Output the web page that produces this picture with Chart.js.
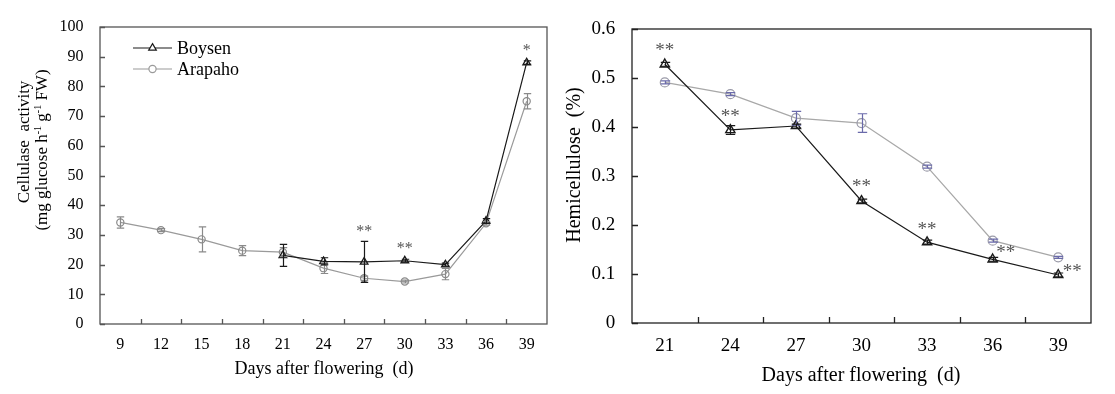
<!DOCTYPE html>
<html><head><meta charset="utf-8">
<script src="https://cdn.jsdelivr.net/npm/chart.js@4.4.1/dist/chart.umd.min.js"></script>
<style>
html,body{margin:0;padding:0;background:#fff;}
#wrap{position:relative;width:1115px;height:394px;overflow:hidden;background:#fff;}
#c1{position:absolute;left:0;top:0;}
#c2{position:absolute;left:555px;top:0;}
</style></head><body>
<div id="wrap"><canvas id="c1" width="555" height="394"></canvas><canvas id="c2" width="560" height="394"></canvas></div>
<script>
// ---- Left chart: cellulase activity ----
const cellDays = ['9','12','15','18','21','24','27','30','33','36','39'];
const cellBoysen = [null,null,null,null,23.1,21.1,20.9,21.3,20.0,34.7,88.0];
const cellBoysenErr = [0,0,0,0,3.7,1.2,6.9,0.5,0.5,0.8,0.6];
const cellArapaho = [34.2,31.6,28.5,24.7,24.2,18.8,15.4,14.3,16.8,33.9,75.0];
const cellArapahoErr = [1.9,0.5,4.2,1.7,1.5,1.8,0.7,0.5,1.9,0.6,2.6];
const cellStars = ['','','','','','','**','**','','','*'];
const cellYTicks = [0,10,20,30,40,50,60,70,80,90,100];

// ---- Right chart: hemicellulose ----
const hemiDays = ['21','24','27','30','33','36','39'];
const hemiBoysen = [0.528,0.394,0.402,0.249,0.165,0.130,0.098];
const hemiBoysenErr = [0.004,0.009,0.004,0.004,0.004,0.004,0.004];
const hemiArapaho = [0.491,0.467,0.418,0.408,0.319,0.168,0.134];
const hemiArapahoErr = [0.003,0.003,0.014,0.019,0.003,0.003,0.002];
const hemiStars = ['**','**','','**','**','**','**'];
const hemiYTicks = [0,0.1,0.2,0.3,0.4,0.5,0.6];

const FONT = "'Liberation Serif','Times New Roman',serif";
const BLACK = '#1a1a1a';
const GRAY = '#9a9a9a';

function decorPlugin(o){
  return {
    id:'decor',
    beforeDatasetsDraw(chart){
      const ctx = chart.ctx, a = chart.chartArea, xs = chart.scales.x, ys = chart.scales.y;
      ctx.save();
      ctx.strokeStyle = o.frameColor; ctx.lineWidth = 1.3;
      ctx.strokeRect(a.left, a.top, a.right - a.left, a.bottom - a.top);
      ctx.beginPath();
      // x ticks (inward) between categories
      const n = chart.data.labels.length;
      for (let i = 1; i < n; i++){
        const x = Math.round((xs.getPixelForValue(i-1) + xs.getPixelForValue(i))/2) + 0.5;
        ctx.moveTo(x, a.bottom); ctx.lineTo(x, a.bottom - o.tickLen);
      }
      // y ticks (inward)
      o.yTicks.forEach(v => {
        const y = Math.round(ys.getPixelForValue(v)) + 0.5;
        ctx.moveTo(a.left, y); ctx.lineTo(a.left + o.tickLen, y);
      });
      ctx.stroke();
      ctx.restore();
    },
    afterDatasetsDraw(chart){
      const ctx = chart.ctx, xs = chart.scales.x, ys = chart.scales.y;
      ctx.save();
      o.errors.forEach(er => {
        ctx.strokeStyle = er.color; ctx.lineWidth = 1.2;
        ctx.beginPath();
        er.values.forEach((v, i) => {
          const e = er.err[i];
          if (v === null || !e) return;
          const x = Math.round(xs.getPixelForValue(i)) + 0.5;
          const yt = ys.getPixelForValue(v + e), yb = ys.getPixelForValue(v - e);
          ctx.moveTo(x, yt); ctx.lineTo(x, yb);
          ctx.moveTo(x - o.cap, yt); ctx.lineTo(x + o.cap, yt);
          ctx.moveTo(x - o.cap, yb); ctx.lineTo(x + o.cap, yb);
        });
        ctx.stroke();
      });
      // significance stars
      ctx.fillStyle = '#555'; ctx.font = o.starFont;
      ctx.textAlign = 'center'; ctx.textBaseline = 'middle';
      o.stars.forEach((s, i) => {
        if (!s) return;
        let top = -Infinity;
        o.errors.forEach(er => { if (er.values[i] !== null && er.anchor) top = Math.max(top, er.values[i] + er.err[i]); });
        const off = o.starOffsets[i] || [0, -10];
        ctx.fillText(s, xs.getPixelForValue(i) + off[0], ys.getPixelForValue(top) + off[1]);
      });
      ctx.restore();
    },
    afterDraw(chart){
      const ctx = chart.ctx;
      ctx.save();
      // legend
      o.legend.items.forEach((it, k) => {
        const y = o.legend.y + k * o.legend.gap;
        ctx.strokeStyle = it.color; ctx.lineWidth = 1.2;
        ctx.beginPath(); ctx.moveTo(o.legend.x1, y); ctx.lineTo(o.legend.x2, y); ctx.stroke();
        ctx.fillStyle = '#fff';
        Chart.helpers.drawPoint(ctx, {pointStyle: it.style, radius: it.r, rotation: 0, borderWidth: 1.2}, (o.legend.x1 + o.legend.x2)/2, y);
        ctx.fillStyle = '#000'; ctx.font = o.legend.font;
        ctx.textAlign = 'left'; ctx.textBaseline = 'middle';
        ctx.fillText(it.text, o.legend.tx, y + 1);
      });
      // x title
      ctx.fillStyle = '#000'; ctx.font = o.xTitle.font;
      ctx.textAlign = 'center'; ctx.textBaseline = 'middle';
      ctx.fillText(o.xTitle.text, o.xTitle.x, o.xTitle.y);
      // y title lines (rotated), with superscript segments
      o.yTitle.lines.forEach(line => {
        ctx.save();
        ctx.translate(line.x, line.y);
        ctx.rotate(-Math.PI/2);
        ctx.textBaseline = 'middle'; ctx.textAlign = 'left';
        let w = 0;
        line.segs.forEach(sg => { ctx.font = sg.sup ? o.yTitle.supFont : o.yTitle.font; w += ctx.measureText(sg.t).width; });
        let cx = -w/2;
        line.segs.forEach(sg => {
          ctx.font = sg.sup ? o.yTitle.supFont : o.yTitle.font;
          ctx.fillText(sg.t, cx, sg.sup ? -5 : 0);
          cx += ctx.measureText(sg.t).width;
        });
        ctx.restore();
      });
      ctx.restore();
    }
  };
}

function baseOptions(p){
  return {
    responsive:false, animation:false, devicePixelRatio:1,
    layout:{padding:p.pad},
    plugins:{legend:{display:false}, tooltip:{enabled:false}},
    scales:{
      x:{type:'category', offset:true,
         grid:{display:false, drawTicks:false}, border:{display:false},
         ticks:{font:{family:FONT, size:p.tickSize}, color:'#000', padding:p.xPad, maxRotation:0, autoSkip:false},
         afterFit(s){ s.height = p.xH; }},
      y:{min:p.yMin, max:p.yMax,
         grid:{display:false, drawTicks:false}, border:{display:false},
         ticks:{stepSize:p.step, font:{family:FONT, size:p.tickSize}, color:'#000', padding:p.yPad, callback:p.fmt},
         afterFit(s){ s.width = p.yW; }}
    }
  };
}

// Left chart
new Chart(document.getElementById('c1'), {
  type:'line',
  data:{labels:cellDays, datasets:[
    {label:'Boysen', data:cellBoysen, borderColor:BLACK, borderWidth:1.2, pointStyle:'triangle', pointRadius:4.4,
     pointBackgroundColor:'rgba(255,255,255,0)', pointBorderColor:BLACK, pointBorderWidth:1.3, tension:0},
    {label:'Arapaho', data:cellArapaho, borderColor:GRAY, borderWidth:1.2, pointStyle:'circle', pointRadius:3.6,
     pointBackgroundColor:'rgba(255,255,255,0)', pointBorderColor:'#8a8a8a', pointBorderWidth:1.2, tension:0}
  ]},
  options: baseOptions({pad:{top:27,right:8,left:0,bottom:0}, tickSize:16, xPad:11, yPad:16.5, xH:70, yW:100,
                        yMin:0, yMax:100, step:10, fmt:(v)=>String(v)}),
  plugins:[decorPlugin({
    frameColor:'#555', tickLen:5, yTicks:cellYTicks, cap:3.7,
    errors:[
      {values:cellArapaho, err:cellArapahoErr, color:'#8a8a8a', anchor:false},
      {values:cellBoysen, err:cellBoysenErr, color:BLACK, anchor:true}
    ],
    stars:cellStars, starFont:"16px "+FONT, starOffsets:{},
    legend:{x1:133, x2:172, tx:177, y:48, gap:21, font:"18px "+FONT,
      items:[{text:'Boysen', color:BLACK, style:'triangle', r:4.4},{text:'Arapaho', color:GRAY, style:'circle', r:3.6}]},
    xTitle:{text:'Days after flowering  (d)', x:324, y:369, font:"18px "+FONT},
    yTitle:{font:"17px "+FONT, supFont:"10px "+FONT, lines:[
      {x:25, y:142, segs:[{t:'Cellulase  activity'}]},
      {x:43, y:150, segs:[{t:'(mg glucose h'},{t:'-1',sup:true},{t:' g'},{t:'-1',sup:true},{t:' FW)'}]}
    ]}
  })]
});

// Right chart
new Chart(document.getElementById('c2'), {
  type:'line',
  data:{labels:hemiDays, datasets:[
    {label:'Boysen', data:hemiBoysen, borderColor:BLACK, borderWidth:1.2, pointStyle:'triangle', pointRadius:5.3,
     pointBackgroundColor:'rgba(255,255,255,0)', pointBorderColor:BLACK, pointBorderWidth:1.4, tension:0},
    {label:'Arapaho', data:hemiArapaho, borderColor:'#a8a8a8', borderWidth:1.3, pointStyle:'circle', pointRadius:4.5,
     pointBackgroundColor:'rgba(255,255,255,0)', pointBorderColor:'#9a9aa8', pointBorderWidth:1.2, tension:0}
  ]},
  options: baseOptions({pad:{top:29,right:24,left:0,bottom:0}, tickSize:19, xPad:12, yPad:16.7, xH:71, yW:77,
                        yMin:0, yMax:0.6, step:0.1, fmt:(v)=> v === 0 ? '0' : v.toFixed(1)}),
  plugins:[decorPlugin({
    frameColor:'#222', tickLen:6, yTicks:hemiYTicks, cap:4.7,
    errors:[
      {values:hemiArapaho, err:hemiArapahoErr, color:'#6a6aaa', anchor:false},
      {values:hemiBoysen, err:hemiBoysenErr, color:BLACK, anchor:true}
    ],
    stars:hemiStars, starFont:"19px "+FONT,
    starOffsets:{0:[0,-11],1:[0,-9],3:[0,-12],4:[0,-10],5:[13,-4],6:[14,-1]},
    legend:{x1:829, x2:871, tx:875, y:47, gap:23, font:"20px "+FONT,
      items:[{text:'Boysen', color:BLACK, style:'triangle', r:5.3},{text:'Arapaho', color:'#a0a0a0', style:'circle', r:4.5}]},
    xTitle:{text:'Days after flowering  (d)', x:306, y:376, font:"20px "+FONT},
    yTitle:{font:"20px "+FONT, supFont:"12px "+FONT, lines:[
      {x:20, y:165, segs:[{t:'Hemicellulose  (%)'}]}
    ]}
  })]
});
</script>
</body></html>
